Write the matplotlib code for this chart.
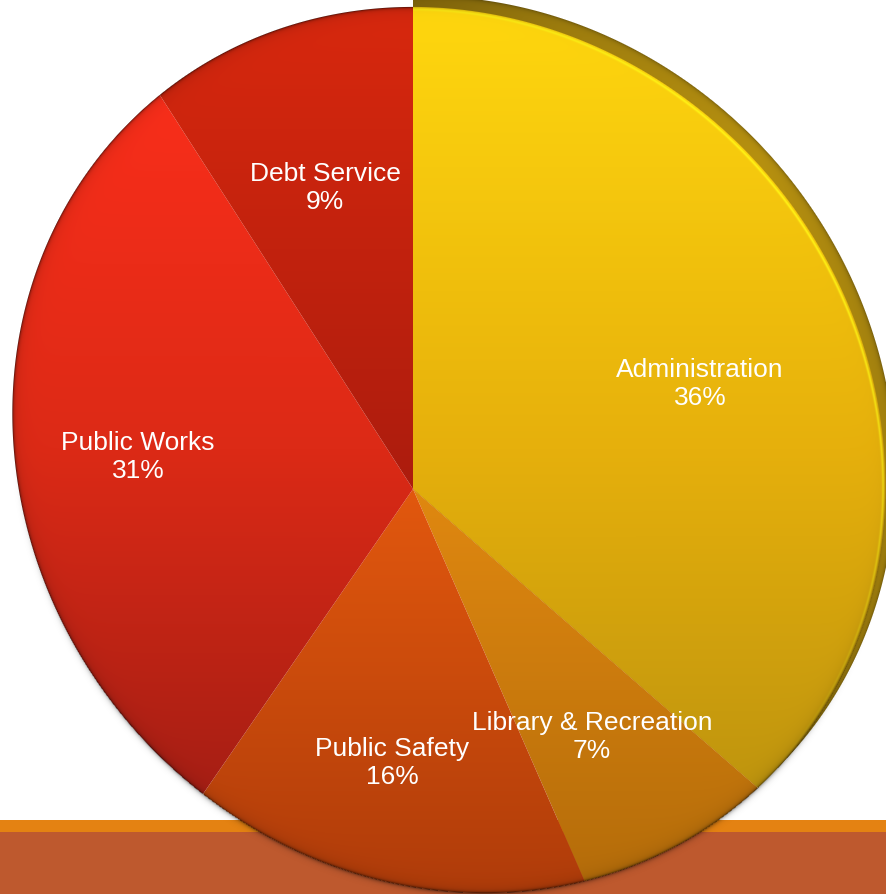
import numpy as np
import matplotlib
matplotlib.use("Agg")
import matplotlib.pyplot as plt

# budget split, clockwise from 12 o'clock
labels = ["Administration", "Library & Recreation", "Public Safety", "Public Works", "Debt Service"]
shares = [36, 7, 16, 31, 9]

# label anchor points (pixel-like data coords, y up)
label_xy = [(700, 511), (592, 158), (392, 132), (138, 438), (325, 707)]

# vertical colour stops per slice: (row from top of picture, rgb)
slice_stops = [
    [(10, (255, 215, 14)), (450, (230, 176, 12)), (800, (190, 148, 14))],
    [(490, (224, 136, 16)), (893, (180, 108, 10))],
    [(490, (226, 88, 14)), (893, (176, 60, 10))],
    [(80, (250, 46, 26)), (450, (220, 42, 22)), (800, (165, 30, 20))],
    [(10, (216, 40, 14)), (490, (172, 28, 13))],
]

W, H = 886, 895
apex = (413, 405)
ell_c, ell_a, ell_b, ell_ang = (449, 444), 458, 421, -50
rim_shift = (10, 11)

fig = plt.figure(figsize=(W / 100, H / 100), dpi=100)
ax = fig.add_axes([0, 0, 1, 1])

# background bands
ax.axhspan(0, 62, color="#BE592E", zorder=0.5, lw=0)
ax.axhspan(62, 74, color="#E48212", zorder=0.5, lw=0)

wedges, _ = ax.pie(shares, startangle=90, counterclock=False, center=apex,
                   radius=560, wedgeprops=dict(fc="none", ec="none"))

X, Yimg = np.meshgrid(np.arange(W) + 0.5, np.arange(H) + 0.5)
Yd = H - Yimg


def edge_dist(cx, cy):
    dx, dy = X - cx, Yd - cy
    phi = np.deg2rad(ell_ang)
    u = dx * np.cos(phi) + dy * np.sin(phi)
    v = -dx * np.sin(phi) + dy * np.cos(phi)
    rho = np.sqrt((u / ell_a) ** 2 + (v / ell_b) ** 2)
    r = np.hypot(dx, dy)
    return r * (1 / np.maximum(rho, 1e-6) - 1), np.arctan2(dy, dx)


d, ang = edge_dist(*ell_c)
d_rim, _ = edge_dist(ell_c[0] + rim_shift[0], ell_c[1] + rim_shift[1])
face_up = np.clip(np.cos(ang - np.deg2rad(45)), 0, 1)

# rim (side wall) of the raised Administration slice
rim = np.zeros((H, W, 4))
rim_tone = np.interp(X, [413, 560, 760, 886], [0.68, 0.86, 1.0, 0.9])
rim_dark = 1 - 0.3 * np.exp(-np.clip(d_rim, 0, None) / 2)
for k, c in enumerate((182, 144, 16)):
    rim[..., k] = c / 255 * rim_tone * rim_dark
rim[..., 3] = np.clip(d_rim + 0.5, 0, 1)
im = ax.imshow(rim, extent=(0, W, 0, H), origin="upper", zorder=1)
im.set_clip_path(wedges[0])

# soft shadow under the lower edge
shadow = np.zeros((H, W, 4))
down = np.clip(-np.sin(ang), 0, 1)
shadow[..., 3] = np.where(d < 0, 0.5 * np.exp(np.minimum(d, 0) / 2.0) * down, 0)
ax.imshow(shadow, extent=(0, W, 0, H), origin="upper", zorder=1.5)

for i, (wedge, stops) in enumerate(zip(wedges, slice_stops)):
    ys = [s[0] for s in stops]
    img = np.zeros((H, W, 4))
    for k in range(3):
        img[..., k] = np.interp(Yimg, ys, [s[1][k] for s in stops]) / 255
    dd = np.clip(d, 0, None)
    shade = 0.55 * np.exp(-dd / 1.2) + 0.12 * np.exp(-dd / 7)
    if i == 0:
        shade = shade * (1 - face_up)
        glow = np.exp(-((dd - 2.5) / 1.3) ** 2) * face_up
        for k, c in enumerate((255, 240, 20)):
            img[..., k] = img[..., k] * (1 - glow) + c / 255 * glow
    img[..., :3] *= (1 - shade)[..., None]
    img[..., 3] = np.clip(d + 0.5, 0, 1)
    im = ax.imshow(img, extent=(0, W, 0, H), origin="upper", zorder=2)
    im.set_clip_path(wedge)

for (x, y), lab, s in zip(label_xy, labels, shares):
    ax.text(x, y, f"{lab}\n{s}%", ha="center", va="center", color="white",
            fontsize=19, family=["Liberation Sans", "DejaVu Sans"],
            linespacing=1.2, zorder=4)

ax.set_xlim(0, W)
ax.set_ylim(0, H)
ax.set_aspect("auto")
ax.axis("off")
fig.savefig("out.png", dpi=100, facecolor="white")
